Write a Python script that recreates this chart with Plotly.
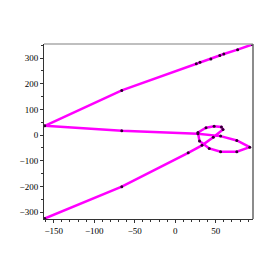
import plotly.graph_objects as go

# path points (x, y)
xs = [-161, -66, 16, 33, 47, 59, 57, 48, 38, 28, 30, 42, 56, 76, 92, 76, 56, 28,
      -66, -161, -66, 26, 30.5, 44, 55, 60, 77, 95]
ys = [-325, -201, -69, -40, -8, 22, 32, 34, 29, 10, -23, -52, -65, -65, -47, -21, -4, 5,
      17, 36, 174, 278, 284, 297, 310, 316, 333, 353]

x_ticks = [-150, -100, -50, 0, 50]
x_labels = ["\u2212150", "\u2212100", "\u221250", "0", "50"]
y_ticks = [-300, -200, -100, 0, 100, 200, 300]
y_labels = ["\u2212300", "\u2212200", "\u2212100", "0", "100", "200", "300"]

fig = go.Figure()
fig.add_trace(go.Scatter(
    x=xs, y=ys, mode="lines",
    line=dict(color="#FF00FF", width=2.5),
    hoverinfo="skip", showlegend=False))
fig.add_trace(go.Scatter(
    x=xs, y=ys, mode="markers",
    marker=dict(color="#300030", size=3),
    hoverinfo="skip", showlegend=False))

font = dict(family="Liberation Serif, Times New Roman, serif", size=9, color="#000000")
fig.update_layout(
    width=273, height=273,
    margin=dict(l=25, r=28, t=36, b=62),
    paper_bgcolor="white", plot_bgcolor="white",
    font=font,
    xaxis=dict(range=[-162, 96], tickvals=x_ticks, ticktext=x_labels,
               showgrid=False, zeroline=False, showline=True, linecolor="#333333",
               linewidth=1, ticks="outside", ticklen=3, tickcolor="#333333",
               minor=dict(dtick=10, tick0=0, ticks="outside", ticklen=2, tickcolor="#333333"),
               tickfont=font, fixedrange=True),
    yaxis=dict(range=[-327, 355], tickvals=y_ticks, ticktext=y_labels,
               showgrid=False, zeroline=False, showline=True, linecolor="#333333",
               linewidth=1, ticks="outside", ticklen=3, tickcolor="#333333",
               minor=dict(dtick=50, tick0=0, ticks="outside", ticklen=2, tickcolor="#333333"),
               tickfont=font, fixedrange=True),
    shapes=[
        dict(type="line", xref="paper", yref="paper", x0=0, x1=1, y0=1, y1=1,
             line=dict(color="#AAAAAA", width=1.5)),
        dict(type="line", xref="paper", yref="paper", x0=1, x1=1, y0=0, y1=1,
             line=dict(color="#666666", width=1.5)),
    ],
)

fig.write_html("out.html")
